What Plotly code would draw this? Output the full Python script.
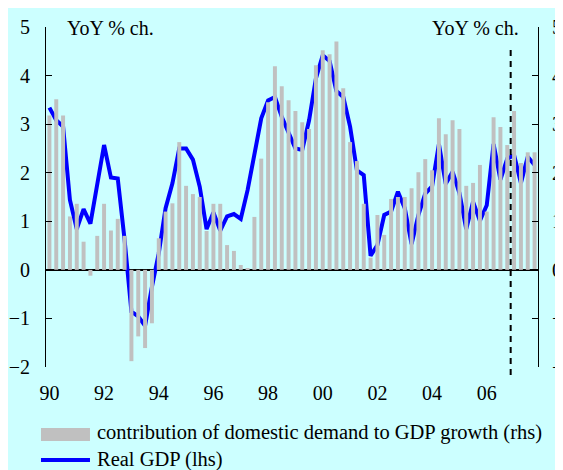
import plotly.graph_objects as go

# quarters 1990Q1 .. 2007Q4
quarters = [f"{y}Q{q}" for y in range(1990, 2008) for q in range(1, 5)]

# contribution of domestic demand to GDP growth (rhs), % pts
dom_demand = [3.18, 3.51, 3.18, 1.10, 1.36, 0.58, -0.12, 0.70,
              1.36, 0.81, 1.05, 0.70, -1.88, -1.37, -1.61, -1.10,
              0.65, 1.20, 1.37, 2.63, 1.73, 1.56, 1.50, 0.80,
              1.36, 1.36, 0.51, 0.39, 0.10, 0.02, 1.09, 2.29,
              3.45, 4.19, 3.78, 3.49, 3.27, 3.04, 2.90, 4.21,
              4.52, 4.44, 4.70, 3.74, 2.63, 2.24, 1.36, 0.25,
              1.13, 0.72, 1.46, 1.50, 1.50, 1.68, 2.01, 2.28,
              2.05, 3.12, 2.79, 3.08, 2.90, 1.73, 1.79, 2.16,
              1.20, 3.14, 2.94, 2.57, 3.27, 2.20, 2.42, 2.42]

# Real GDP, YoY % (lhs)
real_gdp = [3.34, 3.08, 2.95, 1.44, 0.84, 1.25, 0.95, 1.78,
            2.57, 1.90, 1.88, 0.62, -0.86, -0.96, -1.15, -0.35,
            0.34, 1.27, 1.78, 2.50, 2.50, 2.27, 1.71, 0.84,
            1.18, 0.81, 1.10, 1.15, 1.05, 1.64, 2.33, 3.12,
            3.49, 3.56, 3.15, 2.80, 2.50, 2.47, 3.08, 3.94,
            4.42, 4.30, 3.68, 3.56, 2.95, 2.05, 1.95, 0.29,
            0.51, 1.13, 1.20, 1.61, 1.27, 0.53, 1.13, 1.57,
            1.72, 2.59, 1.77, 2.02, 1.58, 0.84, 1.40, 1.01,
            1.33, 2.59, 1.86, 2.29, 2.36, 1.79, 2.33, 2.16]

tick_quarters = ["1990Q1", "1992Q1", "1994Q1", "1996Q1", "1998Q1",
                 "2000Q1", "2002Q1", "2004Q1", "2006Q1"]
tick_labels = ["90", "92", "94", "96", "98", "00", "02", "04", "06"]

forecast_start = 67.5  # between 2006Q4 and 2007Q1

FONT = "Liberation Serif, Times New Roman, serif"
BG = "#CCFFFF"

fig = go.Figure()
fig.add_trace(go.Bar(x=quarters, y=dom_demand, yaxis="y2",
                     marker=dict(color="#C0C0C0", line=dict(width=0)),
                     width=0.58, showlegend=False))
fig.add_trace(go.Scatter(x=quarters, y=real_gdp, mode="lines",
                         line=dict(color="#0000FF", width=4),
                         showlegend=False))

shapes = [
    # forecast divider
    dict(type="line", xref="x", yref="paper", x0=forecast_start, x1=forecast_start,
         y0=-0.0235, y1=0.941, line=dict(color="black", width=2, dash="6px,5px")),
    # legend keys
    dict(type="rect", xref="paper", yref="paper", x0=-0.0102, x1=0.0894,
         y0=-0.2176, y1=-0.1794, fillcolor="#C0C0C0", line=dict(width=0)),
    dict(type="line", xref="paper", yref="paper", x0=-0.0102, x1=0.0894,
         y0=-0.2735, y1=-0.2735, line=dict(color="#0000FF", width=4)),
]

annotations = [
    dict(text="YoY % ch.", xref="paper", yref="paper", x=0.0386, y=0.9976,
         xanchor="left", yanchor="middle", showarrow=False),
    dict(text="YoY % ch.", xref="paper", yref="paper", x=0.9654, y=0.9976,
         xanchor="right", yanchor="middle", showarrow=False),
    dict(text="contribution of domestic demand to GDP growth (rhs)",
         xref="paper", yref="paper", x=0.0996, y=-0.194, font=dict(size=20.5),
         xanchor="left", yanchor="middle", showarrow=False),
    dict(text="Real GDP (lhs)", xref="paper", yref="paper", x=0.0996, y=-0.2735,
         font=dict(size=20.5), xanchor="left", yanchor="middle", showarrow=False),
]

axis_common = dict(range=[-2, 5], dtick=1, showgrid=False, showline=True,
                   linecolor="black", linewidth=1, ticks="inside", ticklen=6,
                   tickcolor="black", automargin=False)

fig.update_layout(
    width=563, height=470,
    margin=dict(l=38, r=33, t=19, b=111, autoexpand=False),
    paper_bgcolor=BG, plot_bgcolor=BG,
    font=dict(family=FONT, size=20, color="black"),
    xaxis=dict(type="category", range=[-0.5, 71.5], tickmode="array",
               tickvals=tick_quarters, ticktext=tick_labels, ticks="",
               showgrid=False, showline=False, zeroline=False,
               ticklabelstandoff=12, automargin=False),
    yaxis=dict(**axis_common, zeroline=True, zerolinecolor="black",
               zerolinewidth=1.5, ticklabelstandoff=11),
    yaxis2=dict(**axis_common, overlaying="y", side="right", zeroline=False,
                ticklabelstandoff=9),
    shapes=shapes,
    annotations=annotations,
    bargap=0.4,
)

fig.write_html("out.html")
